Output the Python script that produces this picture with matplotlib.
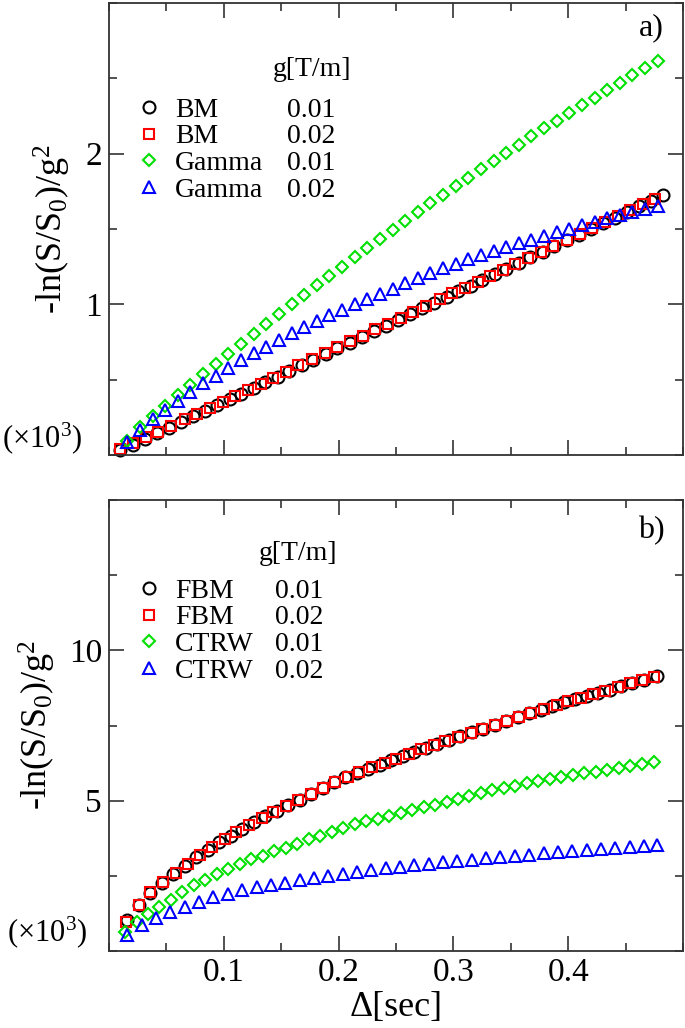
import matplotlib
matplotlib.use("Agg")
import matplotlib.pyplot as plt
from matplotlib.lines import Line2D
from matplotlib.ticker import MultipleLocator

plt.rcParams['font.family'] = ['Liberation Serif', 'DejaVu Serif']
plt.rcParams['mathtext.fontset'] = 'custom'
plt.rcParams['mathtext.rm'] = 'Liberation Serif'
plt.rcParams['mathtext.it'] = 'Liberation Serif:italic'

# ---------------- panel a) ----------------
bm1_x = [0.010, 0.021, 0.031, 0.042, 0.052, 0.063, 0.073, 0.084, 0.094, 0.105,
         0.115, 0.126, 0.136, 0.147, 0.157, 0.168, 0.178, 0.189, 0.199, 0.210,
         0.220, 0.231, 0.241, 0.252, 0.262, 0.273, 0.283, 0.294, 0.304, 0.315,
         0.325, 0.336, 0.346, 0.357, 0.367, 0.378, 0.388, 0.399, 0.409, 0.420,
         0.430, 0.441, 0.451, 0.462, 0.472, 0.483]
bm1_y = [0.030, 0.068, 0.105, 0.143, 0.181, 0.219, 0.256, 0.294, 0.332, 0.369,
         0.407, 0.445, 0.482, 0.520, 0.558, 0.596, 0.633, 0.671, 0.709, 0.746,
         0.784, 0.822, 0.859, 0.897, 0.935, 0.973, 1.010, 1.048, 1.086, 1.123,
         1.161, 1.199, 1.236, 1.274, 1.312, 1.350, 1.387, 1.425, 1.463, 1.500,
         1.538, 1.576, 1.613, 1.651, 1.689, 1.727]

bm2_x = [0.010, 0.021, 0.032, 0.043, 0.054, 0.066, 0.077, 0.088, 0.099, 0.110,
         0.121, 0.132, 0.143, 0.154, 0.165, 0.177, 0.188, 0.199, 0.210, 0.221,
         0.232, 0.243, 0.254, 0.265, 0.276, 0.288, 0.299, 0.310, 0.321, 0.332,
         0.343, 0.354, 0.365, 0.376, 0.387, 0.399, 0.410, 0.421, 0.432, 0.443,
         0.454, 0.465, 0.476]
bm2_y = [0.040, 0.082, 0.119, 0.155, 0.192, 0.236, 0.270, 0.310, 0.350, 0.390,
         0.432, 0.472, 0.513, 0.554, 0.595, 0.636, 0.675, 0.715, 0.754, 0.793,
         0.833, 0.872, 0.911, 0.950, 0.990, 1.033, 1.072, 1.111, 1.150, 1.190,
         1.229, 1.268, 1.307, 1.347, 1.386, 1.429, 1.468, 1.507, 1.547, 1.586,
         1.625, 1.664, 1.700]

gam1_x = [0.016, 0.027, 0.038, 0.049, 0.060, 0.071, 0.082, 0.093, 0.104, 0.115,
          0.126, 0.137, 0.148, 0.159, 0.170, 0.181, 0.192, 0.203, 0.214, 0.225,
          0.236, 0.247, 0.258, 0.269, 0.280, 0.291, 0.302, 0.313, 0.324, 0.335,
          0.346, 0.357, 0.368, 0.379, 0.390, 0.401, 0.412, 0.423, 0.434, 0.445,
          0.456, 0.467, 0.478]
gam1_y = [0.090, 0.187, 0.257, 0.328, 0.397, 0.467, 0.535, 0.603, 0.671, 0.737,
          0.804, 0.869, 0.934, 0.999, 1.063, 1.126, 1.189, 1.251, 1.313, 1.374,
          1.434, 1.494, 1.553, 1.612, 1.670, 1.727, 1.784, 1.841, 1.897, 1.952,
          2.006, 2.060, 2.114, 2.167, 2.219, 2.271, 2.322, 2.372, 2.422, 2.472,
          2.521, 2.569, 2.617]

gam2_x = [0.016, 0.027, 0.038, 0.049, 0.060, 0.071, 0.082, 0.093, 0.104, 0.115,
          0.126, 0.137, 0.148, 0.159, 0.170, 0.181, 0.192, 0.203, 0.214, 0.225,
          0.236, 0.247, 0.258, 0.269, 0.280, 0.291, 0.302, 0.313, 0.324, 0.335,
          0.346, 0.357, 0.368, 0.379, 0.390, 0.401, 0.412, 0.423, 0.434, 0.445,
          0.456, 0.467, 0.478]
gam2_y = [0.088, 0.165, 0.236, 0.300, 0.360, 0.420, 0.475, 0.527, 0.578, 0.628,
          0.675, 0.720, 0.765, 0.810, 0.852, 0.890, 0.927, 0.963, 1.000, 1.035,
          1.070, 1.104, 1.140, 1.175, 1.208, 1.240, 1.270, 1.298, 1.326, 1.355,
          1.380, 1.405, 1.430, 1.455, 1.478, 1.500, 1.525, 1.548, 1.570, 1.592,
          1.613, 1.634, 1.655]

# ---------------- panel b) ----------------
fbm1_x = [0.016, 0.026, 0.036, 0.046, 0.056, 0.066, 0.076, 0.086, 0.096, 0.106,
          0.116, 0.126, 0.136, 0.146, 0.156, 0.166, 0.176, 0.186, 0.196, 0.206,
          0.216, 0.226, 0.236, 0.246, 0.256, 0.266, 0.276, 0.286, 0.296, 0.306,
          0.316, 0.326, 0.336, 0.346, 0.356, 0.366, 0.376, 0.386, 0.396, 0.406,
          0.416, 0.426, 0.436, 0.446, 0.456, 0.466, 0.477]
fbm1_y = [1.02, 1.53, 1.94, 2.26, 2.56, 2.84, 3.11, 3.36, 3.61, 3.83,
          4.06, 4.28, 4.49, 4.67, 4.85, 5.03, 5.22, 5.42, 5.61, 5.78,
          5.93, 6.07, 6.20, 6.34, 6.48, 6.63, 6.76, 6.89, 7.02, 7.15,
          7.28, 7.39, 7.51, 7.64, 7.77, 7.90, 8.01, 8.15, 8.27, 8.38,
          8.49, 8.59, 8.69, 8.82, 8.92, 9.01, 9.14]

fbm2_x = [0.015, 0.026, 0.036, 0.047, 0.058, 0.069, 0.079, 0.090, 0.101, 0.111,
          0.122, 0.133, 0.143, 0.154, 0.165, 0.176, 0.186, 0.197, 0.208, 0.218,
          0.229, 0.240, 0.250, 0.261, 0.272, 0.283, 0.293, 0.304, 0.315, 0.325,
          0.336, 0.347, 0.357, 0.368, 0.379, 0.390, 0.400, 0.411, 0.422, 0.432,
          0.443, 0.454, 0.464, 0.475]
fbm2_y = [0.97, 1.52, 1.95, 2.29, 2.61, 2.91, 3.18, 3.46, 3.71, 3.96,
          4.19, 4.42, 4.63, 4.82, 5.01, 5.21, 5.42, 5.62, 5.80, 5.96,
          6.11, 6.25, 6.40, 6.56, 6.71, 6.85, 6.98, 7.12, 7.26, 7.38,
          7.51, 7.65, 7.79, 7.92, 8.04, 8.19, 8.31, 8.43, 8.55, 8.65,
          8.78, 8.90, 9.00, 9.13]

ctrw1_x = [0.014, 0.024, 0.034, 0.044, 0.054, 0.064, 0.074, 0.084, 0.094, 0.104,
           0.114, 0.124, 0.134, 0.144, 0.154, 0.164, 0.174, 0.184, 0.194, 0.204,
           0.214, 0.224, 0.234, 0.244, 0.254, 0.264, 0.274, 0.284, 0.294, 0.304,
           0.314, 0.324, 0.334, 0.344, 0.354, 0.364, 0.374, 0.384, 0.394, 0.404,
           0.414, 0.424, 0.434, 0.444, 0.454, 0.464, 0.475]
ctrw1_y = [0.62, 0.95, 1.24, 1.48, 1.71, 1.96, 2.18, 2.37, 2.56, 2.74,
           2.90, 3.05, 3.17, 3.31, 3.43, 3.57, 3.71, 3.84, 3.96, 4.09,
           4.21, 4.31, 4.40, 4.50, 4.60, 4.69, 4.78, 4.87, 4.97, 5.06,
           5.15, 5.25, 5.34, 5.42, 5.50, 5.58, 5.65, 5.71, 5.78, 5.85,
           5.91, 5.97, 6.03, 6.09, 6.15, 6.22, 6.28]

ctrw2_x = [0.016, 0.0285, 0.041, 0.0535, 0.066, 0.0785, 0.091, 0.1035, 0.116, 0.1285,
           0.141, 0.1535, 0.166, 0.1785, 0.191, 0.2035, 0.216, 0.2285, 0.241, 0.2535,
           0.266, 0.2785, 0.291, 0.3035, 0.316, 0.3285, 0.341, 0.3535, 0.366, 0.3785,
           0.391, 0.4035, 0.416, 0.4285, 0.441, 0.4535, 0.466, 0.4775]
ctrw2_y = [0.53, 0.87, 1.09, 1.31, 1.48, 1.64, 1.79, 1.90, 2.02, 2.12,
           2.20, 2.27, 2.37, 2.44, 2.51, 2.57, 2.63, 2.69, 2.75, 2.81,
           2.86, 2.91, 2.95, 2.99, 3.03, 3.08, 3.12, 3.16, 3.20, 3.25,
           3.30, 3.34, 3.37, 3.40, 3.43, 3.46, 3.49, 3.51]

names_a = ["BM", "BM", "Gamma", "Gamma"]
names_b = ["FBM", "FBM", "CTRW", "CTRW"]
grads = ["0.01", "0.02", "0.01", "0.02"]

styles = [
    dict(marker='o', ms=8.6, mec='black'),
    dict(marker='s', ms=7.6, mec='#ff0000'),
    dict(marker='D', ms=6.0, mec='#00e000'),
    dict(marker='^', ms=8.8, mec='#0000ff'),
]

spine_col = '#333333'


def style_axes(ax, xlim, ylim, yticks, yminor):
    ax.set_xlim(*xlim)
    ax.set_ylim(*ylim)
    ax.set_xticks([0.1, 0.2, 0.3, 0.4])
    ax.xaxis.set_minor_locator(MultipleLocator(0.05))
    ax.set_yticks(yticks)
    ax.yaxis.set_minor_locator(MultipleLocator(yminor))
    ax.tick_params(which='both', direction='in', top=True, right=True,
                   colors=spine_col, width=1.2, labelcolor='black')
    ax.tick_params(which='major', length=11, labelsize=24, pad=5)
    ax.tick_params(which='minor', length=6)
    for s in ax.spines.values():
        s.set_color(spine_col)
        s.set_linewidth(1.3)


def draw(ax, series):
    handles = []
    for (x, y), st in zip(series, styles):
        h, = ax.plot(x, y, linestyle='none', marker=st['marker'], ms=st['ms'],
                     mfc='none', mec=st['mec'], mew=1.5, clip_on=False)
        handles.append(h)
    return handles


def add_legend(ax, handles, names, anchor, colsp, header_xy):
    blanks = [Line2D([], [], linestyle='none') for _ in names]
    ax.legend(handles + blanks, names + grads, ncol=2, loc='upper left',
              bbox_to_anchor=anchor, frameon=False, numpoints=1,
              prop={'family': 'Liberation Serif', 'size': 20},
              handlelength=1.0, handletextpad=0.43, labelspacing=0.04,
              columnspacing=colsp, borderpad=0, borderaxespad=0)
    ax.text(header_xy[0], header_xy[1], "g[T/m]", transform=ax.transAxes,
            fontsize=20, ha='center', va='center')


fig = plt.figure(figsize=(6.85, 10.28), dpi=100)
ax1 = fig.add_axes([0.1591, 0.5574, 0.838, 0.4397])
ax2 = fig.add_axes([0.1591, 0.0749, 0.838, 0.4387])

h1 = draw(ax1, [(bm1_x, bm1_y), (bm2_x, bm2_y), (gam1_x, gam1_y), (gam2_x, gam2_y)])
style_axes(ax1, (0, 0.5), (0, 3), [1, 2], 0.5)
ax1.set_xticklabels([])
add_legend(ax1, h1, names_a, (0.046, 0.791), -0.57, (0.354, 0.852))
ax1.text(0.945, 0.945, "a)", transform=ax1.transAxes, fontsize=23, ha='center', va='center')
ax1.set_ylabel(r"-ln(S/S$_0$)/g$^2$", fontsize=26)
ax1.yaxis.set_label_coords(-0.063, 0.5)
ax1.text(-0.186, 0.038, "(×10$^3$)", transform=ax1.transAxes, fontsize=22,
         ha='left', va='center')

h2 = draw(ax2, [(fbm1_x, fbm1_y), (fbm2_x, fbm2_y), (ctrw1_x, ctrw1_y), (ctrw2_x, ctrw2_y)])
style_axes(ax2, (0, 0.5), (0, 15), [5, 10], 2.5)
add_legend(ax2, h2, names_b, (0.046, 0.826), -0.67, (0.329, 0.882))
ax2.text(0.945, 0.933, "b)", transform=ax2.transAxes, fontsize=23, ha='center', va='center')
ax2.set_ylabel(r"-ln(S/S$_0$)/g$^2$", fontsize=26)
ax2.yaxis.set_label_coords(-0.089, 0.5)
ax2.text(-0.178, 0.042, "(×10$^3$)", transform=ax2.transAxes, fontsize=22,
         ha='left', va='center')
ax2.set_xlabel("Δ[sec]", fontsize=26, labelpad=2)

fig.savefig("out.png", dpi=100)
